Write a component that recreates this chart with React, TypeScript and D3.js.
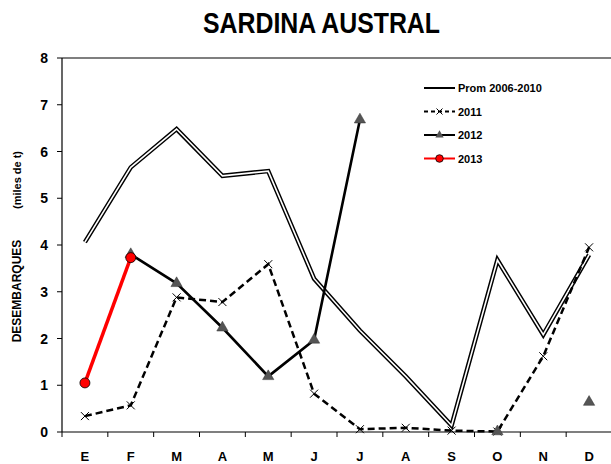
import * as d3 from 'd3';

const months = ['E', 'F', 'M', 'A', 'M', 'J', 'J', 'A', 'S', 'O', 'N', 'D'];
const yTicks = [0, 1, 2, 3, 4, 5, 6, 7, 8];

const prom = [4.06, 5.66, 6.48, 5.48, 5.58, 3.28, 2.17, 1.19, 0.14, 3.68, 2.08, 3.79];
const y2011 = [0.34, 0.57, 2.88, 2.78, 3.59, 0.82, 0.06, 0.09, 0.03, 0.01, 1.62, 3.95];
const y2012: (number | null)[] = [null, 3.8, 3.18, 2.23, 1.19, 1.97, 6.68, null, null, 0.01, null, 0.64];
const y2013: (number | null)[] = [1.05, 3.73, null, null, null, null, null, null, null, null, null, null];

const W = 611;
const H = 464;
const font = '"Liberation Sans", Arial, sans-serif';

const App = () => {
  const idx = months.map((_, i) => i);
  const x = d3.scaleBand<number>().domain(idx).range([62, 612]);
  const y = d3.scaleLinear().domain([0, 8]).range([432, 58]);
  const cx = (i: number) => (x(i) as number) + x.bandwidth() / 2;

  const line = d3
    .line<number | null>()
    .defined((d) => d != null)
    .x((_, i) => cx(i))
    .y((d) => y(d as number));

  // 2012: only the connected run F..J is drawn as a line
  const run2012 = y2012.map((v, i) => (i >= 1 && i <= 6 ? v : null));

  const tri = d3.symbol().type(d3.symbolTriangle).size(55);
  const triSmall = d3.symbol().type(d3.symbolTriangle).size(30);

  const legend = [
    { label: 'Prom 2006-2010', kind: 'prom' },
    { label: '2011', kind: '2011' },
    { label: '2012', kind: '2012' },
    { label: '2013', kind: '2013' },
  ];

  return (
    <div style={{ position: 'absolute', left: 0, top: 0 }}>
      <svg width={W} height={H} style={{ display: 'block', background: '#fff' }} fontFamily={font}>
        <text x={321.5} y={33} textAnchor="middle" fontSize={29} fontWeight="bold" textLength={237} lengthAdjust="spacingAndGlyphs">
          SARDINA AUSTRAL
        </text>

        {/* axes */}
        <line x1={62} x2={611} y1={58} y2={58} stroke="#000" strokeWidth={1.2} />
        <line x1={62} x2={62} y1={58} y2={432} stroke="#000" strokeWidth={1.2} />
        <line x1={62} x2={611} y1={432} y2={432} stroke="#000" strokeWidth={1.2} />
        {yTicks.map((t) => (
          <g key={t}>
            <line x1={57} x2={62} y1={y(t)} y2={y(t)} stroke="#000" strokeWidth={1} />
            <text x={48} y={y(t) + 5} textAnchor="end" fontSize={14} fontWeight="bold">
              {t}
            </text>
          </g>
        ))}
        {idx.map((i) => (
          <g key={i}>
            <line x1={x(i) as number} x2={x(i) as number} y1={432} y2={437} stroke="#000" strokeWidth={1} />
            <text x={cx(i)} y={461} textAnchor="middle" fontSize={13} fontWeight="bold">
              {months[i]}
            </text>
          </g>
        ))}

        <text transform="translate(21,291) rotate(-90)" textAnchor="middle" fontSize={12} fontWeight="bold">
          DESEMBARQUES
        </text>
        <text transform="translate(21,180) rotate(-90)" textAnchor="middle" fontSize={11} fontWeight="bold">
          (miles de t)
        </text>

        {/* Prom 2006-2010: double line */}
        <path d={line(prom) ?? ''} fill="none" stroke="#000" strokeWidth={4.5} strokeLinejoin="miter" />
        <path d={line(prom) ?? ''} fill="none" stroke="#fff" strokeWidth={1.6} strokeLinejoin="miter" />

        {/* 2011 */}
        <path d={line(y2011) ?? ''} fill="none" stroke="#000" strokeWidth={2.5} strokeDasharray="7,4" />
        {y2011.map((v, i) => (
          <path
            key={i}
            d={`M${cx(i) - 4},${y(v) - 4}L${cx(i) + 4},${y(v) + 4}M${cx(i) - 4},${y(v) + 4}L${cx(i) + 4},${y(v) - 4}`}
            stroke="#000"
            strokeWidth={1}
          />
        ))}

        {/* 2012 */}
        <path d={line(run2012) ?? ''} fill="none" stroke="#000" strokeWidth={2.6} />
        {y2012.map((v, i) =>
          v == null ? null : (
            <path key={i} d={tri() ?? ''} transform={`translate(${cx(i)},${y(v)})`} fill="#555" stroke="#333" strokeWidth={0.5} />
          )
        )}

        {/* 2013 */}
        <path d={line(y2013) ?? ''} fill="none" stroke="#f00" strokeWidth={3.5} />
        {y2013.map((v, i) =>
          v == null ? null : <circle key={i} cx={cx(i)} cy={y(v)} r={5} fill="#f00" stroke="#000" strokeWidth={0.8} />
        )}

        {/* legend */}
        {legend.map((l, k) => {
          const ly = 88 + k * 23.5;
          return (
            <g key={l.kind}>
              {l.kind === 'prom' && <line x1={424} x2={455} y1={ly} y2={ly} stroke="#000" strokeWidth={2} />}
              {l.kind === '2011' && (
                <g>
                  <line x1={424} x2={455} y1={ly} y2={ly} stroke="#000" strokeWidth={2} strokeDasharray="4,3" />
                  <path d={`M436.5,${ly - 3}L442.5,${ly + 3}M436.5,${ly + 3}L442.5,${ly - 3}`} stroke="#000" strokeWidth={1} />
                </g>
              )}
              {l.kind === '2012' && (
                <g>
                  <line x1={424} x2={455} y1={ly} y2={ly} stroke="#000" strokeWidth={2} />
                  <path d={triSmall() ?? ''} transform={`translate(439.5,${ly})`} fill="#555" />
                </g>
              )}
              {l.kind === '2013' && (
                <g>
                  <line x1={424} x2={455} y1={ly} y2={ly} stroke="#f00" strokeWidth={2} />
                  <circle cx={439.5} cy={ly} r={3.8} fill="#f00" stroke="#000" strokeWidth={0.8} />
                </g>
              )}
              <text x={458} y={ly + 4} fontSize={11} fontWeight="bold">
                {l.label}
              </text>
            </g>
          );
        })}
      </svg>
    </div>
  );
};

export default App;
